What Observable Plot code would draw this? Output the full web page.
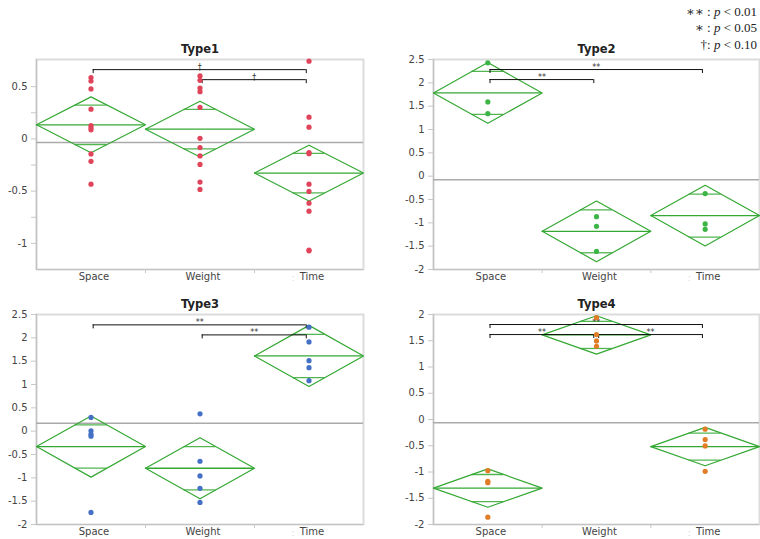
<!DOCTYPE html>
<html><head><meta charset="utf-8">
<script src="https://cdn.jsdelivr.net/npm/d3@7"></script>
<script src="https://cdn.jsdelivr.net/npm/@observablehq/plot@0.6"></script>
<style>
body{margin:0;background:#fff;}
#wrap{position:relative;width:760px;height:539px;overflow:hidden;background:#fff;}
.panel{position:absolute;}
#legend{position:absolute;right:3px;top:4px;text-align:right;font-family:"Liberation Serif","DejaVu Serif",serif;font-size:13px;line-height:16.3px;color:#222;}
</style></head><body>
<div id="wrap">
  <div id="legend">∗∗ : <i>p</i> &lt; 0.01<br>∗ : <i>p</i> &lt; 0.05<br>†: <i>p</i> &lt; 0.10</div>
</div>
<script>
const categories = ["Space", "Weight", "Time"];
const titles = ["Type1", "Type2", "Type3", "Type4"];

// observations per category (Space, Weight, Time)
const type1Space  = [0.587, 0.554, 0.478, 0.285, 0.128, 0.106, 0.087, -0.144, -0.215, -0.433];
const type1Weight = [0.603, 0.561, 0.487, 0.452, 0.301, 0.006, -0.083, -0.163, -0.244, -0.413, -0.484];
const type1Time   = [0.744, 0.208, 0.112, -0.131, -0.141, -0.433, -0.503, -0.615, -0.692, -1.064, -1.071];
const type2Space  = [2.428, 1.590, 1.340];
const type2Weight = [-0.867, -1.074, -1.612];
const type2Time   = [-0.372, -1.024, -1.139];
const type3Space  = [0.294, 0.007, -0.064, -0.107, -1.741];
const type3Weight = [0.372, -0.645, -0.960, -1.225, -1.526];
const type3Time   = [2.228, 1.913, 1.511, 1.361, 1.082];
const type4Space  = [-0.975, -1.178, -1.204, -1.860];
const type4Weight = [1.940, 1.618, 1.497, 1.395];
const type4Time   = [-0.185, -0.382, -0.503, -0.987];

// means diamonds: group means and CI half-widths
const type1Means = [0.135, 0.093, -0.327];
const type1CI    = [0.267, 0.267, 0.267];
const type2Means = [1.784, -1.182, -0.845];
const type2CI    = [0.650, 0.650, 0.650];
const type3Means = [-0.330, -0.795, 1.612];
const type3CI    = [0.655, 0.655, 0.655];
const type4Means = [-1.306, 1.611, -0.516];
const type4CI    = [0.365, 0.365, 0.365];

// grand means
const grandMeans = [-0.035, -0.079, 0.172, -0.064];

// significance brackets
const type1Brackets = [
  {from: "Space", to: "Time", y: 0.663, label: "†"},
  {from: "Weight", to: "Time", y: 0.567, label: "†"}
];
const type2Brackets = [
  {from: "Space", to: "Time", y: 2.285, label: "**"},
  {from: "Space", to: "Weight", y: 2.07, label: "**"}
];
const type3Brackets = [
  {from: "Space", to: "Time", y: 2.278, label: "**"},
  {from: "Weight", to: "Time", y: 2.063, label: "**"}
];
const type4Brackets = [
  {from: "Space", to: "Time", y: 1.809, label: "**"},
  {from: "Space", to: "Weight", y: 1.618, label: "**"},
  {from: "Weight", to: "Time", y: 1.618, label: "**"}
];

// y axis setup
const yDomains = [[-1.25, 0.76], [-2, 2.5], [-2, 2.5], [-2, 2]];
const yMajor = [[0.5, 0, -0.5, -1], [2.5, 2, 1.5, 1, 0.5, 0, -0.5, -1, -1.5, -2], [2.5, 2, 1.5, 1, 0.5, 0, -0.5, -1, -1.5, -2], [2, 1.5, 1, 0.5, 0, -0.5, -1, -1.5, -2]];
const yMinor = [[0.25, -0.25, -0.75], [], [], []];

const pointColors = ["#e0445a", "#3db446", "#4470c6", "#e07d26"];
const green = "#35a834";

const panels = [
  {pts: [type1Space, type1Weight, type1Time], means: type1Means, ci: type1CI, br: type1Brackets, left: 0, top: 30, h: 255, ml: 36, mr: 17, mb: 16},
  {pts: [type2Space, type2Weight, type2Time], means: type2Means, ci: type2CI, br: type2Brackets, left: 380, top: 30, h: 255, ml: 53, mr: 1, mb: 16},
  {pts: [type3Space, type3Weight, type3Time], means: type3Means, ci: type3CI, br: type3Brackets, left: 0, top: 285, h: 254, ml: 36, mr: 17, mb: 15},
  {pts: [type4Space, type4Weight, type4Time], means: type4Means, ci: type4CI, br: type4Brackets, left: 380, top: 285, h: 254, ml: 53, mr: 1, mb: 15}
];

const wrap = document.getElementById("wrap");
const K = 0.5 * (1 - Math.SQRT1_2);

panels.forEach((p, k) => {
  const idx = c => categories.indexOf(c);
  const dots = p.pts.flatMap((arr, i) => arr.map(v => ({x: i + 0.5, y: v})));
  const diamond = p.means.flatMap((m, i) => [[i, m], [i + 0.5, m + p.ci[i]], [i + 1, m], [i + 0.5, m - p.ci[i]], [i, m]].map(([x, y]) => ({x, y, g: i})));
  const meanLines = p.means.map((m, i) => ({x1: i, x2: i + 1, y: m}));
  const overlap = p.means.flatMap((m, i) => [1, -1].map(s => ({x1: i + 0.5 - K, x2: i + 0.5 + K, y: m + s * p.ci[i] / Math.SQRT2})));
  const brLines = p.br.map(b => ({x1: idx(b.from) + 0.52, x2: idx(b.to) + 0.475, y: b.y, label: b.label}));
  const brEnds = brLines.flatMap(b => [{x: b.x1, y: b.y}, {x: b.x2, y: b.y}]);
  const brLabels = brLines.map(b => ({x: (b.x1 + b.x2) / 2, y: b.y, label: b.label}));
  const dom = yDomains[k];

  const chart = Plot.plot({
    width: 380,
    height: p.h,
    marginLeft: p.ml,
    marginRight: p.mr,
    marginTop: 29,
    marginBottom: p.mb,
    style: {fontFamily: "DejaVu Sans", fontSize: "10px", color: "#444", background: "transparent", overflow: "visible"},
    x: {domain: [0, 3]},
    y: {domain: dom},
    marks: [
      Plot.frame({stroke: "#dcdcdc", strokeWidth: 2}),
      Plot.ruleX([0], {stroke: "#c2c2c2", strokeWidth: 1.2}),
      Plot.ruleY([dom[0]], {stroke: "#c2c2c2", strokeWidth: 1.2}),
      Plot.axisY({ticks: yMajor[k], tickSize: 5, tickPadding: 4, tickFormat: d => String(d), stroke: "#c8c8c8", fill: "#444", label: null}),
      Plot.axisY({ticks: yMinor[k], tickSize: 5, tickFormat: () => "", stroke: "#c8c8c8", label: null}),
      Plot.axisX({ticks: [0.5, 1.5, 2.5], tickSize: 0, tickPadding: 3, dx: 3, tickFormat: d => categories[Math.floor(d)], fill: "#444", label: null}),
      Plot.axisX({ticks: [1, 2], tickSize: 4, tickFormat: () => "", stroke: "#c8c8c8", label: null}),
      Plot.text([":"], {x: 2.5, y: dom[0], dy: 9, dx: -16, fill: "#d8d8d8", fontSize: 9}),
      Plot.text([titles[k]], {frameAnchor: "top", lineAnchor: "middle", dy: -10, fontWeight: "bold", fontSize: 11.5, fill: "#222"}),
      Plot.ruleY([grandMeans[k]], {stroke: "#aaaaaa", strokeWidth: 1.5}),
      Plot.line(diamond, {x: "x", y: "y", z: "g", stroke: green, strokeWidth: 1.2}),
      Plot.ruleY(meanLines, {x1: "x1", x2: "x2", y: "y", stroke: green, strokeWidth: 1.3}),
      Plot.ruleY(overlap, {x1: "x1", x2: "x2", y: "y", stroke: green, strokeWidth: 1.3, strokeOpacity: 0.85}),
      Plot.text(brLabels, {x: "x", y: "y", text: "label", fontSize: 8, fill: "#333", lineAnchor: "bottom"}),
      Plot.ruleY(brLines, {x1: "x1", x2: "x2", y: "y", stroke: "#111", strokeWidth: 1}),
      Plot.ruleX(brEnds, {x: "x", y1: "y", y2: "y", insetBottom: -4, stroke: "#111", strokeWidth: 1}),
      Plot.dot(dots, {x: "x", y: "y", r: 2.6, fill: pointColors[k], stroke: "none"})
    ]
  });
  chart.classList.add("panel");
  chart.style.left = p.left + "px";
  chart.style.top = p.top + "px";
  wrap.appendChild(chart);
});
</script>
</body></html>
